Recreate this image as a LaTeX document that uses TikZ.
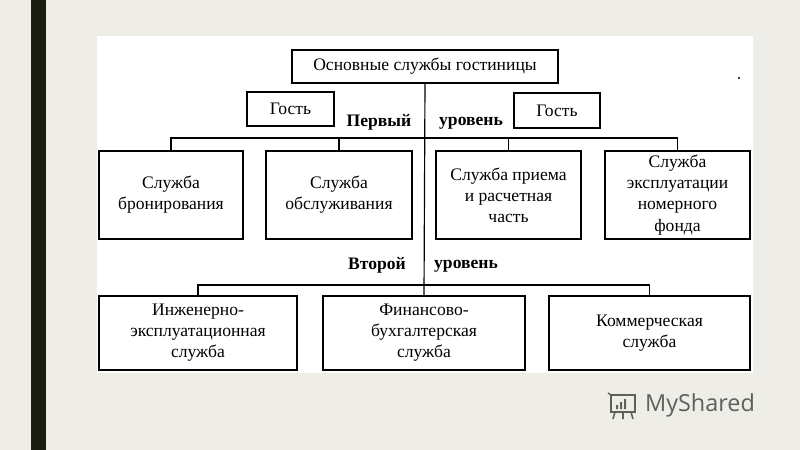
\documentclass[tikz,border=0pt]{standalone}
\usepackage{fontspec}
\setmainfont{Liberation Serif}
\newfontfamily\logofont{Open Sans}
\usetikzlibrary{positioning}
\definecolor{slidebg}{HTML}{EEEDE7}
\definecolor{slidebar}{HTML}{1A1D10}
\definecolor{logogray}{HTML}{5A625A}

\begin{document}
\begin{tikzpicture}[x=0.03cm,y=-0.03cm,
    box/.style={draw,line width=1.2pt,align=center,inner sep=0pt,
        font=\fontsize{15}{18}\selectfont},
    lvl/.style={font=\fontsize{15}{18}\selectfont\bfseries},
    wire/.style={line width=1pt}]
        \fill[slidebg] (0,0) rectangle (800,450);
        \fill[slidebar] (31,0) rectangle (46,450);
        \fill[white] (97,36) rectangle (753,373);
        \useasboundingbox (0,0) rectangle (800,450);

        \node[box,minimum width=266*0.03cm,minimum height=33*0.03cm] at (425,66.5) (title) {Основные службы гостиницы};
        \node[box,minimum width=87*0.03cm,minimum height=34*0.03cm] at (290.5,109) (g-1) {Гость};
        \node[box,minimum width=86*0.03cm,minimum height=35*0.03cm] at (557,110.5) (g-2) {Гость};
        \node[lvl] at (379,122) (first) {Первый};
        \node[lvl] at (471,123) (first-r) {уровень};

        \node[box,minimum width=144*0.03cm,minimum height=88*0.03cm] at (171,195) (1-1) {Служба\\бронирования};
        \node[box,minimum width=146*0.03cm,minimum height=88*0.03cm] at (339,195) (1-2) {Служба\\обслуживания};
        \node[box,minimum width=145*0.03cm,minimum height=88*0.03cm] at (508.5,195) (1-3) {Служба приема\\и расчетная\\часть};
        \node[box,minimum width=145*0.03cm,minimum height=88*0.03cm] at (677.5,195) (1-4) {Служба\\эксплуатации\\номерного\\фонда};

        \node[lvl] at (377,265) (second) {Второй};
        \node[lvl] at (466,266) (second-r) {уровень};

        \node[box,minimum width=198*0.03cm,minimum height=74*0.03cm] at (198,333) (2-1) {Инженерно-\\эксплуатационная\\служба};
        \node[box,minimum width=202*0.03cm,minimum height=74*0.03cm] at (424,333) (2-2) {Финансово-\\бухгалтерская\\служба};
        \node[box,minimum width=201*0.03cm,minimum height=74*0.03cm] at (649.5,333) (2-3) {Коммерческая\\служба};

        \coordinate (bus1) at (424,138);
        \coordinate (bus2) at (424,285);
        \draw[wire] (title.south) -- (2-2.north);
        \draw[wire] (1-1.north) |- (bus1) -| (1-4.north);
        \draw[wire] (1-2.north) -- (1-2.north |- bus1);
        \draw[wire] (1-3.north) -- (1-3.north |- bus1);
        \draw[wire] (2-1.north) |- (bus2) -| (2-3.north);
        \fill (739,78) circle (1.2);

        % logo
        \node[font=\logofont\fontsize{20}{20}\selectfont,text=logogray,anchor=west]
            at (641,405) (logo) {MyShared};
        \draw[logogray,line width=1.3pt] (611,395) rectangle (635,412)
            (611,395) -- (608,393) (615,412) -- (613,419) (623,412) -- (623,419) (631,412) -- (633,419);
        \fill[logogray] (616,405) rectangle (618,409) (620,402) rectangle (622,409) (624,399) rectangle (626,409);
\end{tikzpicture}
\end{document}
